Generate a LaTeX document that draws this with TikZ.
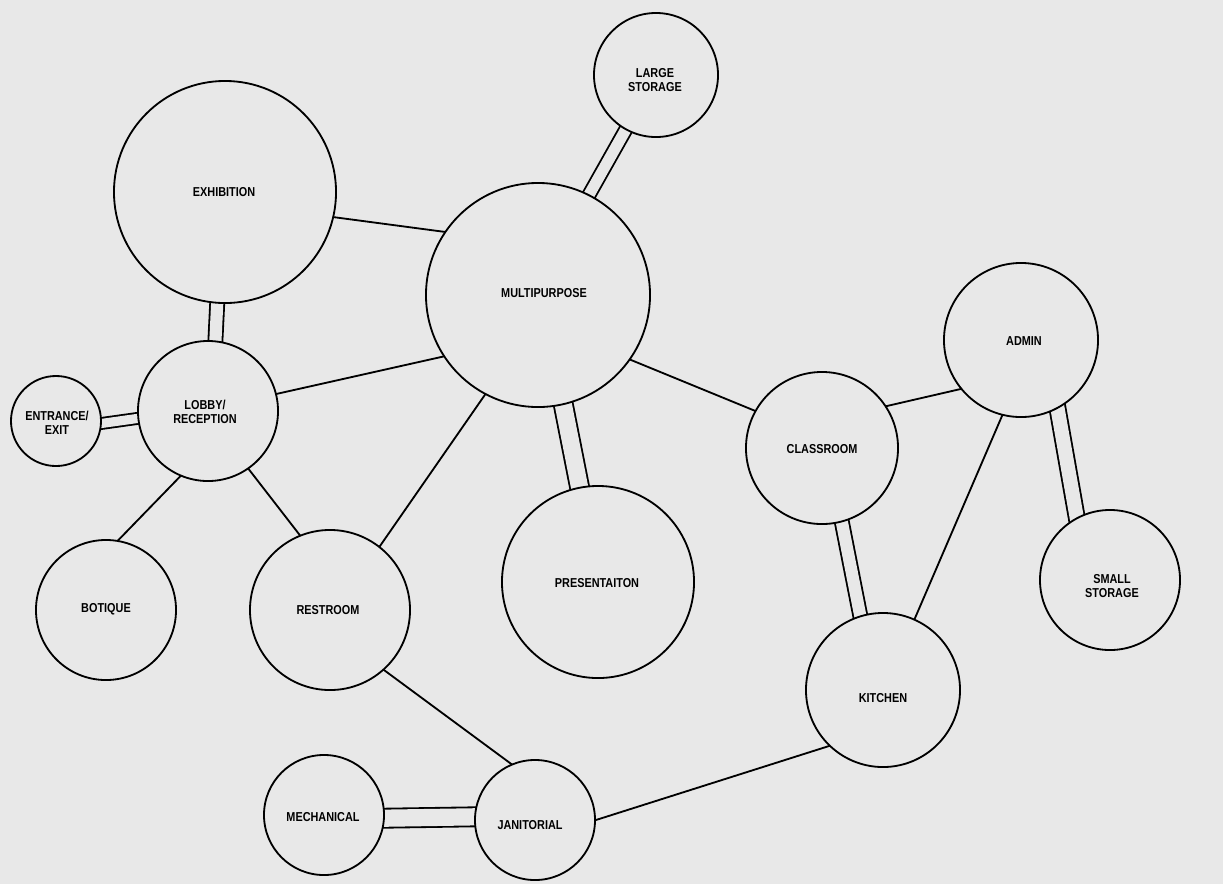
\documentclass[tikz,border=0pt]{standalone}
\usepackage{fontspec}
\newfontfamily\labfont[FakeStretch=0.84]{Liberation Sans}
\definecolor{bg}{HTML}{E8E8E8}
\pgfdeclarelayer{back}
\pgfsetlayers{back,main}
\tikzset{
  bub/.style={circle, draw=black, line width=1.3pt, fill=bg, inner sep=0pt, minimum size=#1*0.05cm},
  txt/.style={font=\labfont\bfseries\fontsize{9.2}{10}\selectfont, align=center, inner sep=0pt},
  link/.style={draw=black, line width=1.3pt, shorten <=-3pt, shorten >=-3pt},
  dbl/.style={link, double=bg, double distance=#1},
}
\begin{document}
\begin{tikzpicture}[x=0.025cm, y=-0.025cm]
\useasboundingbox (0,0) rectangle (1223,884);
% bubbles
\node[bub=62]  (ls)   at (656,75)   {};
\node[bub=111] (exh)  at (225,192)  {};
\node[bub=112] (mp)   at (538,295)  {};
\node[bub=77]  (adm)  at (1021,340) {};
\node[bub=70]  (lob)  at (208,411)  {};
\node[bub=45]  (ent)  at (56,421)   {};
\node[bub=76]  (cls)  at (822,448)  {};
\node[bub=96]  (pres) at (598,582)  {};
\node[bub=70]  (ss)   at (1110,580) {};
\node[bub=70]  (bot)  at (106,610)  {};
\node[bub=80]  (rest) at (330,610)  {};
\node[bub=77]  (kit)  at (883,690)  {};
\node[bub=60]  (mech) at (324,815)  {};
\node[bub=60]  (jan)  at (535,820)  {};
% labels
\node[txt] (ls-t)   at (655,80)   {LARGE\\STORAGE};
\node[txt] (exh-t)  at (224,192)  {EXHIBITION};
\node[txt] (mp-t)   at (544,293)  {MULTIPURPOSE};
\node[txt] (adm-t)  at (1024,341) {ADMIN};
\node[txt] (lob-t)  at (205,412)  {LOBBY/\\RECEPTION};
\node[txt] (ent-t)  at (57,423)   {ENTRANCE/\\EXIT};
\node[txt] (cls-t)  at (822,449)  {CLASSROOM};
\node[txt] (pres-t) at (597,583)  {PRESENTAITON};
\node[txt] (ss-t)   at (1112,586) {SMALL\\STORAGE};
\node[txt] (bot-t)  at (106,609)  {BOTIQUE};
\node[txt] (rest-t) at (328,610)  {RESTROOM};
\node[txt] (kit-t)  at (883,698)  {KITCHEN};
\node[txt] (mech-t) at (323,817)  {MECHANICAL};
\node[txt] (jan-t)  at (530,825)  {JANITORIAL};
% connectors
\begin{pgfonlayer}{back}
\fill[bg] (0,0) rectangle (1223,884);
\draw[link] (exh.347.6) -- (mp.146.4);
\draw[link] (lob.14) -- (mp.213);
\draw[link] (lob.247.3) -- (bot.80.3);
\draw[link] (lob.305.3) -- (rest.112.7);
\draw[link] (mp.242.1) -- (rest.52.6);
\draw[link] (mp.325.4) -- (cls.151.1);
\draw[link] (cls.33.9) -- (adm.219.1);
\draw[link] (adm.256.8) -- (kit.66);
\draw[link] (rest.312.9) -- (jan.113.2);
\draw[link] (kit.226.1) -- (jan.0.9);
\draw[dbl=0.28cm]  (ls.241.8) -- (mp.63.9);
\draw[dbl=0.305cm] (exh.266.6) -- (lob.84.2);
\draw[dbl=0.23cm]  (ent.357.5) -- (lob.186.9);
\draw[dbl=0.43cm]  (mp.283.8) -- (pres.101.9);
\draw[dbl=0.305cm] (cls.285.2) -- (kit.107.8);
\draw[dbl=0.355cm] (adm.298.7) -- (ss.118);
\draw[dbl=0.43cm]  (mech.357.6) -- (jan.177.6);
\end{pgfonlayer}
\end{tikzpicture}
\end{document}
